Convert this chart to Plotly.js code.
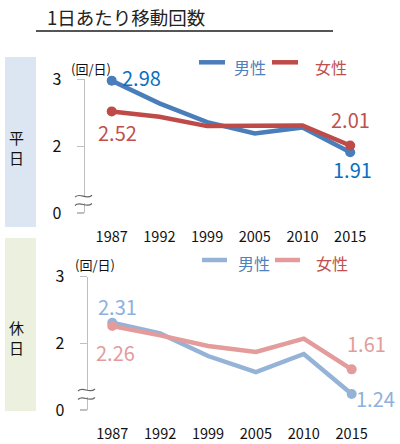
<!DOCTYPE html>
<html>
<head>
<meta charset="utf-8">
<script src="https://cdn.plot.ly/plotly-3.0.1.min.js"></script>
<style>html,body{margin:0;padding:0;background:#fff;}#chart{width:400px;height:444px;}</style>
</head>
<body>
<div id="chart"></div>
<script>
// ---- data ----
const years = ['1987', '1992', '1999', '2005', '2010', '2015'];
const weekdayMale   = [2.98, 2.64, 2.36, 2.19, 2.28, 1.91];
const weekdayFemale = [2.52, 2.44, 2.30, 2.30, 2.31, 2.01];
const holidayMale   = [2.31, 2.15, 1.81, 1.57, 1.84, 1.24];
const holidayFemale = [2.26, 2.12, 1.96, 1.87, 2.07, 1.61];
// broken axis: the bottom tick stands for 0
const yTickVals = [1, 2, 3];
const yTickText = ['0', '2', '3'];
const seriesNames = ['男性', '女性'];
const panelNames = ['平日', '休日'];
const titleText = '1日あたり移動回数';
const unitText = '(回/日)';

// ---- helpers ----
const W = 400, H = 444;
const PX = p => p / W;
const PY = p => 1 - p / H;
const FONT = 'Noto Sans CJK JP, sans-serif';
const ends = years.map((_, i) => (i === 0 || i === years.length - 1) ? 10 : 0);

const C = {
  wdM: '#4a7ebb', wdF: '#be4b48', wdMlab: '#0a6fc2', wdFlab: '#c0504d',
  hdM: '#95b3d7', hdF: '#e39c9b', hdMlab: '#8db0de', hdFlab: '#e39c9b'
};

function line(x, y, xa, ya, color) {
  return {x: x, y: y, xaxis: xa, yaxis: ya, type: 'scatter', mode: 'lines+markers',
    line: {color: color, width: 4.5},
    marker: {color: color, size: ends, opacity: 1, line: {width: 0}},
    cliponaxis: false, showlegend: false, hoverinfo: 'skip'};
}

const data = [
  line(years, weekdayMale, 'x', 'y', C.wdM),
  line(years, weekdayFemale, 'x', 'y', C.wdF),
  line(years, holidayMale, 'x2', 'y2', C.hdM),
  line(years, holidayFemale, 'x2', 'y2', C.hdF)
];

function valLabel(xa, ya, arr, idx, color, dx, dy) {
  return {xref: xa, yref: ya, x: idx, y: arr[idx], text: arr[idx].toFixed(2),
    showarrow: false, xanchor: 'center', yanchor: 'middle', xshift: dx, yshift: dy,
    font: {family: FONT, size: 20, color: color}};
}
function txt(x, y, t, size, color, anchor) {
  return {xref: 'paper', yref: 'paper', x: PX(x), y: PY(y), text: t, showarrow: false,
    xanchor: anchor || 'center', yanchor: 'middle', font: {family: FONT, size: size, color: color}};
}

const last = years.length - 1;
const annotations = [
  txt(45, 17, titleText, 18.5, '#222', 'left'),
  txt(16, 147.5, panelNames[0][0] + '<br>' + panelNames[0][1], 15, '#111'),
  txt(16, 337.5, panelNames[1][0] + '<br>' + panelNames[1][1], 15, '#111'),
  txt(90.5, 68, unitText, 13, '#111'),
  txt(94.5, 264, unitText, 13, '#111'),
  // legends
  txt(232, 67, seriesNames[0], 16, '#4f81bd', 'left'),
  txt(313, 67, seriesNames[1], 16, '#c0504d', 'left'),
  txt(236, 263, seriesNames[0], 16, '#4f81bd', 'left'),
  txt(314, 263, seriesNames[1], 16, '#c0504d', 'left'),
  // value labels
  valLabel('x', 'y', weekdayMale, 0, C.wdMlab, 30, 3),
  valLabel('x', 'y', weekdayFemale, 0, C.wdFlab, 6, -21),
  valLabel('x', 'y', weekdayFemale, last, C.wdFlab, 0, 26),
  valLabel('x', 'y', weekdayMale, last, C.wdMlab, 2, -17),
  valLabel('x2', 'y2', holidayMale, 0, C.hdMlab, 5, 16),
  valLabel('x2', 'y2', holidayFemale, 0, C.hdFlab, 3, -26),
  valLabel('x2', 'y2', holidayFemale, last, C.hdFlab, 15, 26),
  valLabel('x2', 'y2', holidayMale, last, C.hdMlab, 24, -4)
];

function pline(x0, y0, x1, y1, color, width) {
  return {type: 'line', xref: 'paper', yref: 'paper', x0: PX(x0), y0: PY(y0), x1: PX(x1), y1: PY(y1),
    line: {color: color, width: width}};
}
function prect(x0, y0, x1, y1, fill) {
  return {type: 'rect', xref: 'paper', yref: 'paper', x0: PX(x0), y0: PY(y0), x1: PX(x1), y1: PY(y1),
    fillcolor: fill, line: {width: 0}, layer: 'below'};
}
function wave(x0, y, len) {
  const p = (a, b) => PX(a).toFixed(5) + ',' + PY(b).toFixed(5);
  return {type: 'path', xref: 'paper', yref: 'paper',
    path: 'M' + p(x0, y + 1.5) + ' C' + p(x0 + len * 0.3, y - 4) + ' ' + p(x0 + len * 0.65, y + 5) + ' ' + p(x0 + len, y - 0.5),
    line: {color: '#666', width: 1.2}};
}
function breakMark(ax, yTop, yBot) {
  return [
    {type: 'rect', xref: 'paper', yref: 'paper', x0: PX(ax - 2.5), x1: PX(ax + 2.5), y0: PY(yBot - 1), y1: PY(yTop + 1),
      fillcolor: '#fff', line: {width: 0}},
    wave(ax - 10, yTop, 17), wave(ax - 10, yBot, 17)
  ];
}

const shapes = [
  pline(36, 31, 333, 31, '#555', 2),
  prect(5, 57, 36, 227, '#dce6f2'),
  prect(5, 238, 36, 411, '#ebf1de'),
  pline(199, 62.3, 225, 62.3, C.wdM, 4.5),
  pline(272, 62.3, 298, 62.3, C.wdF, 4.5),
  pline(202, 260, 227, 260, C.hdM, 4.5),
  pline(275, 260, 300, 260, C.hdF, 4.5)
].concat(breakMark(85, 195.7, 204)).concat(breakMark(88, 389.5, 398));

const xBase = {type: 'category', showline: false, ticks: '', showgrid: false, zeroline: false,
  tickfont: {family: FONT, size: 14.5, color: '#111'}, ticklabelstandoff: 13, fixedrange: true};
const yBase = {range: [1, 3], tickvals: yTickVals, ticktext: yTickText, showline: true,
  linecolor: '#bfbfbf', linewidth: 1.5, ticks: 'outside', ticklen: 7, tickcolor: '#bfbfbf', tickwidth: 1.2,
  showgrid: false, zeroline: false, tickfont: {family: FONT, size: 16, color: '#111'},
  ticklabelstandoff: 12, fixedrange: true};

const layout = {
  width: W, height: H, margin: {l: 0, r: 0, t: 0, b: 0},
  paper_bgcolor: '#fff', plot_bgcolor: 'rgba(0,0,0,0)', showlegend: false,
  xaxis: Object.assign({}, xBase, {domain: [PX(85), PX(375)], range: [-0.56, 5.52], anchor: 'y'}),
  yaxis: Object.assign({}, yBase, {domain: [PY(213), PY(79.3)], anchor: 'x'}),
  xaxis2: Object.assign({}, xBase, {domain: [PX(88), PX(378)], range: [-0.507, 5.55], anchor: 'y2'}),
  yaxis2: Object.assign({}, yBase, {domain: [PY(410), PY(276.7)], anchor: 'x2'}),
  annotations: annotations, shapes: shapes
};

Plotly.newPlot('chart', data, layout, {displayModeBar: false, staticPlot: true});
</script>
</body>
</html>
